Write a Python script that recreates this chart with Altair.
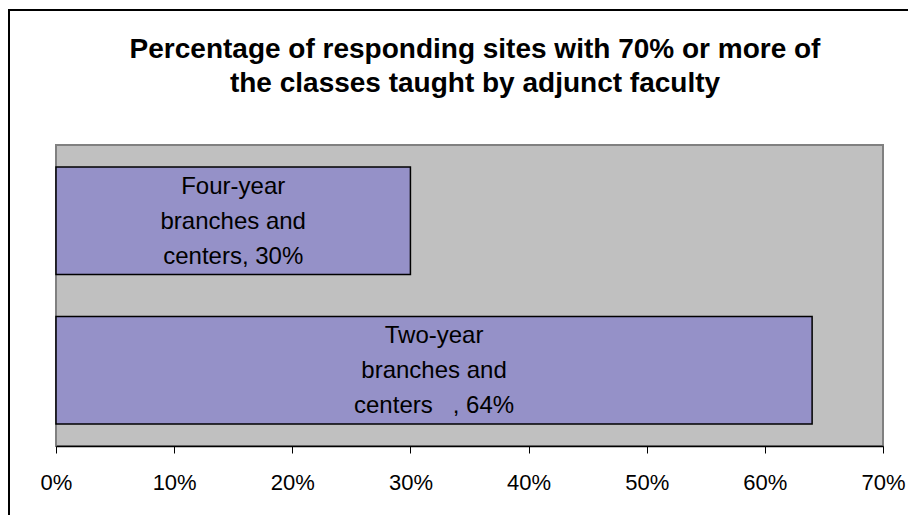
import altair as alt
import pandas as pd

categories = ["Four-year\nbranches and\ncenters, 30%", "Two-year\nbranches and\ncenters\u00a0\u00a0\u00a0, 64%"]
values = [0.30, 0.64]
tick_values = [0, 0.1, 0.2, 0.3, 0.4, 0.5, 0.6, 0.7]
title_lines = ["Percentage of responding sites with 70% or more of",
               "the classes taught by adjunct faculty"]

df = pd.DataFrame({"cat": categories, "value": values})
FONT = "Liberation Sans"
W, H = 827, 301

x_scale = alt.Scale(domain=[0, 0.7], nice=False, zero=True)
y_scale = alt.Scale(domain=categories, paddingInner=0.28, paddingOuter=0.147)

base = alt.Chart(df)

bars = base.mark_bar(color="#9591C8", stroke="black", strokeWidth=1.5).encode(
    x=alt.X("value:Q", scale=x_scale,
            axis=alt.Axis(values=tick_values, format="%", title=None, grid=False,
                          tickSize=7, tickColor="black", tickWidth=1,
                          domainColor="black", domainWidth=1.5,
                          labelFont=FONT, labelFontSize=22, labelColor="black",
                          labelPadding=19, labelFlush=False)),
    y=alt.Y("cat:N", scale=y_scale, axis=None, sort=categories),
)

labels = base.transform_calculate(mid="datum.value / 2").mark_text(
    font=FONT, fontSize=24, color="black", lineBreak="\n", lineHeight=35,
    align="center", baseline="middle", dy=-34
).encode(
    x=alt.X("mid:Q", scale=x_scale),
    y=alt.Y("cat:N", scale=y_scale, sort=categories),
    text="cat:N",
)

title_df = pd.DataFrame({"t": ["\n".join(title_lines)]})
title = alt.Chart(title_df).mark_text(
    font=FONT, fontSize=28, fontWeight="bold", color="black", lineBreak="\n",
    lineHeight=34, align="center", baseline="alphabetic"
).encode(x=alt.value(419), y=alt.value(-87), text="t:N")

frame_df = pd.DataFrame({"k": [0]})
left_line = alt.Chart(frame_df).mark_rule(color="black", strokeWidth=2).encode(
    x=alt.value(-47), y=alt.value(-136), y2=alt.value(420))
top_line = alt.Chart(frame_df).mark_rule(color="black", strokeWidth=2).encode(
    x=alt.value(-48), x2=alt.value(900), y=alt.value(-135))

chart = alt.layer(bars, labels, title, left_line, top_line).properties(
    width=W, height=H,
    background="white",
    autosize=alt.AutoSizeParams(type="none"),
    padding={"left": 48, "top": 137, "right": 900 - 48 - W, "bottom": 69},
).configure_view(fill="#C0C0C0", stroke="#808080", strokeWidth=2)

chart.save("out.html", embed_options={"renderer": "svg", "actions": False})
